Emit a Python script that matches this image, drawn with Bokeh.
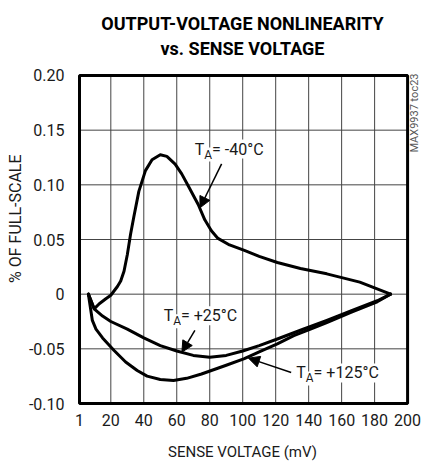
import math
from bokeh.plotting import figure
from bokeh.layouts import row, column
from bokeh.models import (Label, Arrow, NormalHead, FixedTicker, CustomJSTickFormatter, Range1d)
from bokeh.embed import file_html
from bokeh.resources import INLINE

# ---- data ----
x_ticks = [1, 20, 40, 60, 80, 100, 120, 140, 160, 180, 200]
x_labels = ["1", "20", "40", "60", "80", "100", "120", "140", "160", "180", "200"]
y_ticks = [-0.10, -0.05, 0.0, 0.05, 0.10, 0.15, 0.20]
y_labels = ["-0.10", "-0.05", "0", "0.05", "0.10", "0.15", "0.20"]

x_m40 = [6.4, 9.9, 13, 17, 20, 24, 26, 28, 30, 32, 34, 37, 41, 45, 50, 54, 59, 63, 67,
         73, 77, 81, 85, 92, 101, 110, 121, 135, 151, 171, 189.7]
y_m40 = [0.0, -0.0134, -0.0088, -0.0042, -0.001, 0.007, 0.012, 0.021, 0.036, 0.055, 0.071,
         0.094, 0.113, 0.123, 0.1275, 0.126, 0.119, 0.110, 0.099,
         0.082, 0.068, 0.058, 0.051, 0.045, 0.040, 0.0345, 0.029, 0.0235, 0.0186, 0.011, 0.0]

x_p25 = [6.4, 9.9, 15, 20, 30, 40, 50, 60, 70, 80, 90, 100, 110, 121, 135, 151, 166, 181.6, 189.7]
y_p25 = [0.0, -0.0134, -0.020, -0.025, -0.032, -0.040, -0.047, -0.052, -0.056, -0.0577,
         -0.056, -0.052, -0.047, -0.041, -0.033, -0.024, -0.015, -0.006, 0.0]

x_p125 = [6.4, 8.8, 11, 15, 22, 29, 36, 42, 50, 58, 66, 75, 81, 90, 101, 111, 121, 131,
          141.5, 151, 166, 181.6, 189.7]
y_p125 = [0.0, -0.024, -0.032, -0.040, -0.0515, -0.062, -0.0698, -0.075, -0.078, -0.079,
          -0.077, -0.073, -0.0698, -0.065, -0.059, -0.052, -0.0454, -0.038, -0.0317,
          -0.026, -0.0165, -0.007, 0.0]

title_lines = ["OUTPUT-VOLTAGE NONLINEARITY", "vs. SENSE VOLTAGE"]
x_title = "SENSE VOLTAGE (mV)"
y_title = "% OF FULL-SCALE"
side_note = "MAX9937 toc23"
temp_labels = [" = -40°C", " = +25°C", " = +125°C"]

FONT = "Roboto"
INK = "#1a1a1a"


def strip(w, h):
    s = figure(width=w, height=h, x_range=Range1d(0, w), y_range=Range1d(0, h),
               output_backend="svg", toolbar_location=None, title_location=None,
               x_axis_type=None, y_axis_type=None, min_border=0)
    s.outline_line_color = None
    s.background_fill_color = "white"
    s.border_fill_color = "white"
    return s


# ---- title strip ----
top = strip(422, 61)
top.add_layout(Label(x=242, y=38.5, text=title_lines[0], text_font=FONT, text_font_style="bold",
                     text_font_size="18px", text_align="center", text_baseline="middle",
                     text_color="black"))
top.add_layout(Label(x=242, y=13.5, text=title_lines[1], text_font=FONT, text_font_style="bold",
                     text_font_size="18px", text_align="center", text_baseline="middle",
                     text_color="black"))

# ---- y-axis title strip ----
left = strip(25, 375)
left.add_layout(Label(x=15, y=211, angle=math.pi / 2, text=y_title, text_font=FONT,
                      text_font_size="16px", text_align="center", text_baseline="middle",
                      text_color=INK))

# ---- x-axis title strip ----
bottom = strip(422, 25)
bottom.add_layout(Label(x=242, y=10, text=x_title, text_font=FONT, text_font_size="15px",
                        text_align="center", text_baseline="middle", text_color=INK))

# ---- main plot (frame padded 2px so the box line is not clipped; extends right for the code) ----
p = figure(width=397, height=375, x_range=Range1d(-0.2061, 209.045),
           y_range=Range1d(-0.101829, 0.201829),
           output_backend="svg", toolbar_location=None, title_location=None,
           min_border_left=50, min_border_right=0, min_border_top=12, min_border_bottom=31)
p.background_fill_color = "white"
p.border_fill_color = "white"
p.outline_line_color = None
p.grid.visible = False

p.xaxis.ticker = FixedTicker(ticks=x_ticks)
p.yaxis.ticker = FixedTicker(ticks=y_ticks)
fmt_code = """
for (let i = 0; i < tv.length; i++) { if (Math.abs(tv[i] - tick) < 1e-9) return tl[i]; }
return '';
"""
p.xaxis.formatter = CustomJSTickFormatter(args=dict(tv=x_ticks, tl=x_labels), code=fmt_code)
p.yaxis.formatter = CustomJSTickFormatter(args=dict(tv=y_ticks, tl=y_labels), code=fmt_code)
for ax in (p.xaxis[0], p.yaxis[0]):
    ax.axis_line_color = None
    ax.major_tick_line_color = None
    ax.minor_tick_line_color = None
    ax.major_tick_out = 0
    ax.major_tick_in = 0
    ax.minor_tick_out = 0
    ax.minor_tick_in = 0
    ax.major_label_text_font = FONT
    ax.major_label_text_font_size = "16px"
    ax.major_label_text_color = INK
p.xaxis.major_label_standoff = 8
p.yaxis.major_label_standoff = 13

# grid lines at the tick values, limited to the plotting box
n_x, n_y = len(x_ticks), len(y_ticks)
p.segment(x0=x_ticks, y0=[y_ticks[0]] * n_x, x1=x_ticks, y1=[y_ticks[-1]] * n_x,
          line_color="#444444", line_width=1)
p.segment(x0=[x_ticks[0]] * n_y, y0=y_ticks, x1=[x_ticks[-1]] * n_y, y1=y_ticks,
          line_color="#444444", line_width=1)

for xs, ys in ((x_m40, y_m40), (x_p25, y_p25), (x_p125, y_p125)):
    p.line(xs, ys, line_color="black", line_width=3, line_join="round", line_cap="round")

# plotting box
p.quad(left=x_ticks[0], right=x_ticks[-1], bottom=y_ticks[0], top=y_ticks[-1],
       fill_color=None, line_color="black", line_width=3)

# arrows
arrows = [((87.2, 0.1192), (74.1, 0.0790)),
          ((71.0, -0.0332), (63.1, -0.0530)),
          ((129.4, -0.0716), (103.5, -0.0585))]
for (xs, ys), (xe, ye) in arrows:
    p.add_layout(Arrow(end=NormalHead(size=11, fill_color="black", line_color="black", line_width=1),
                       x_start=xs, y_start=ys, x_end=xe, y_end=ye,
                       line_color="black", line_width=1.5))

# temperature labels  (T with subscript A)
label_pos = [(70.9, 0.1268), (52.1, -0.0256), (132.5, -0.078)]
for (lx, ly), rest in zip(label_pos, temp_labels):
    p.add_layout(Label(x=lx, y=ly, y_offset=6.5, text="T", text_font=FONT, text_font_size="16px",
                       text_align="left", text_baseline="middle", text_color=INK,
                       background_fill_color="white"))
    p.add_layout(Label(x=lx, y=ly, x_offset=9.5, y_offset=1, text="A", text_font=FONT,
                       text_font_size="12px", text_align="left", text_baseline="middle",
                       text_color=INK, background_fill_color="white"))
    p.add_layout(Label(x=lx, y=ly, x_offset=17.3, y_offset=6.5, text=rest, text_font=FONT,
                       text_font_size="16px", text_align="left", text_baseline="middle",
                       text_color=INK, background_fill_color="white"))

# vertical figure code to the right of the box
p.add_layout(Label(x=x_ticks[-1], y=y_ticks[-1], x_offset=0.5, y_offset=2, angle=math.pi / 2,
                   text=side_note, text_font=FONT, text_font_size="11px", text_align="right",
                   text_baseline="top", text_color="#555555"))

layout = column(top, row(left, p), bottom)
open("out.html", "w").write(file_html(layout, INLINE))
